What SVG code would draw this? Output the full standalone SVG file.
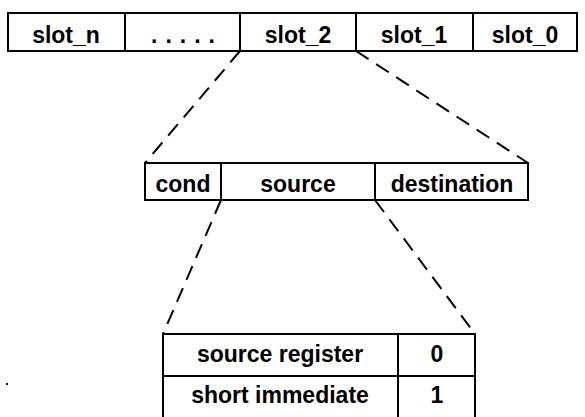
<svg xmlns="http://www.w3.org/2000/svg" width="585" height="417" viewBox="0 0 585 417">
<style>
.box{fill:#fff;stroke:#000;stroke-width:2}
.div{stroke:#000;stroke-width:2}
.t{font-family:"Liberation Sans",Arial,sans-serif;font-weight:bold;font-size:23px;text-anchor:middle;fill:#000}
.dash{stroke:#000;stroke-width:2;stroke-dasharray:15 9;fill:none}
</style>
<rect width="585" height="417" fill="#fff"/>
<g id="connectors">
<line class="dash" x1="240" y1="51" x2="145" y2="163"/>
<line class="dash" x1="356" y1="51" x2="528" y2="163"/>
<line class="dash" x1="221" y1="200" x2="163" y2="334"/>
<line class="dash" x1="375" y1="200" x2="475" y2="334"/>
</g>
<g id="slots">
<rect class="box" x="8" y="13" width="569" height="38"/>
<line class="div" x1="125" y1="13" x2="125" y2="51"/>
<line class="div" x1="240" y1="13" x2="240" y2="51"/>
<line class="div" x1="356" y1="13" x2="356" y2="51"/>
<line class="div" x1="473" y1="13" x2="473" y2="51"/>
<g id="slot_n"><text class="t" x="66" y="43">slot_n</text></g>
<g id="slot_dots"><text class="t" x="187" y="43" style="letter-spacing:8px">.....</text></g>
<g id="slot_2"><text class="t" x="298" y="43">slot_2</text></g>
<g id="slot_1"><text class="t" x="414" y="43">slot_1</text></g>
<g id="slot_0"><text class="t" x="525" y="43">slot_0</text></g>
</g>
<g id="fields">
<rect class="box" x="145" y="163" width="383" height="37"/>
<line class="div" x1="221" y1="163" x2="221" y2="200"/>
<line class="div" x1="375" y1="163" x2="375" y2="200"/>
<g id="cond"><text class="t" x="183" y="192">cond</text></g>
<g id="source"><text class="t" x="298" y="192">source</text></g>
<g id="destination"><text class="t" x="452" y="192">destination</text></g>
</g>
<g id="table">
<rect class="box" x="163" y="334" width="312" height="90"/>
<line class="div" x1="163" y1="376" x2="475" y2="376"/>
<line class="div" x1="398" y1="334" x2="398" y2="424"/>
<g id="source_register"><text class="t" x="280" y="362">source register</text></g>
<g id="val0"><text class="t" x="437" y="362">0</text></g>
<g id="short_immediate"><text class="t" x="280" y="403">short immediate</text></g>
<g id="val1"><text class="t" x="437" y="403">1</text></g>
</g>
<rect x="6" y="383" width="2" height="2" fill="#000"/>
</svg>
